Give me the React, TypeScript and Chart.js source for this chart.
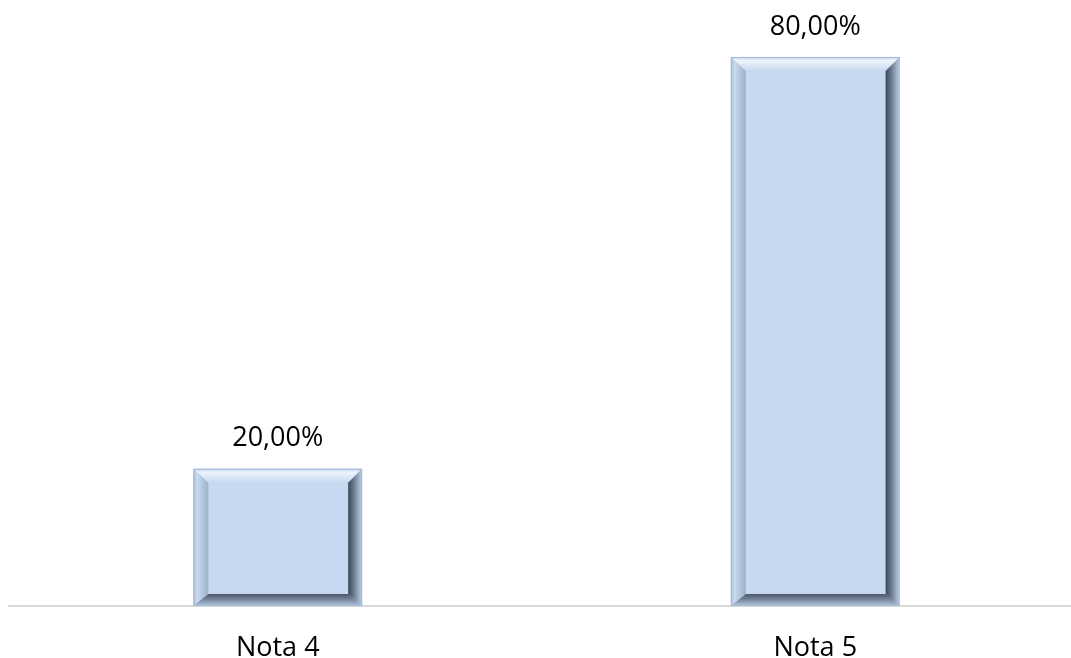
import React, { useEffect, useRef } from "react";
import { Chart, registerables } from "chart.js";

Chart.register(...registerables);

const categories = ["Nota 4", "Nota 5"];
const percentValues = [20, 80];
const yMin = 0;
const yMax = 88.3;

const FONT = "'Open Sans', 'Noto Sans', sans-serif";

const bevelPlugin = {
  id: "bevelBars",
  afterDatasetsDraw(chart: any) {
    const ctx = chart.ctx;
    const meta = chart.getDatasetMeta(0);
    meta.data.forEach((bar: any) => {
      const p = bar.getProps(["x", "y", "base", "width"], true);
      const L = p.x - p.width / 2;
      const R = p.x + p.width / 2;
      const T = Math.min(p.y, p.base);
      const B = Math.max(p.y, p.base);
      const bl = 15, bt = 14, br = 14, bb = 12;
      ctx.save();
      // top
      let g = ctx.createLinearGradient(0, T, 0, T + bt);
      g.addColorStop(0, "#bccfe8");
      g.addColorStop(0.25, "#eef4fb");
      g.addColorStop(1, "#c7d8ee");
      ctx.fillStyle = g;
      ctx.beginPath();
      ctx.moveTo(L, T); ctx.lineTo(R, T); ctx.lineTo(R - br, T + bt); ctx.lineTo(L + bl, T + bt); ctx.closePath();
      ctx.fill();
      // left
      g = ctx.createLinearGradient(L, 0, L + bl, 0);
      g.addColorStop(0, "#a9bfdc");
      g.addColorStop(0.25, "#c9daef");
      g.addColorStop(1, "#9db0c8");
      ctx.fillStyle = g;
      ctx.beginPath();
      ctx.moveTo(L, T); ctx.lineTo(L + bl, T + bt); ctx.lineTo(L + bl, B - bb); ctx.lineTo(L, B); ctx.closePath();
      ctx.fill();
      // right
      g = ctx.createLinearGradient(R - br, 0, R, 0);
      g.addColorStop(0, "#3a4756");
      g.addColorStop(0.4, "#6a7a8e");
      g.addColorStop(0.85, "#a9bcd4");
      g.addColorStop(1, "#b7cbe5");
      ctx.fillStyle = g;
      ctx.beginPath();
      ctx.moveTo(R, T); ctx.lineTo(R, B); ctx.lineTo(R - br, B - bb); ctx.lineTo(R - br, T + bt); ctx.closePath();
      ctx.fill();
      // bottom
      g = ctx.createLinearGradient(0, B - bb, 0, B);
      g.addColorStop(0, "#4a5766");
      g.addColorStop(0.5, "#7b8ba0");
      g.addColorStop(0.85, "#a3b6cf");
      g.addColorStop(1, "#b5c8e2");
      ctx.fillStyle = g;
      ctx.beginPath();
      ctx.moveTo(L, B); ctx.lineTo(R, B); ctx.lineTo(R - br, B - bb); ctx.lineTo(L + bl, B - bb); ctx.closePath();
      ctx.fill();
      // outer edge
      ctx.strokeStyle = "#a3badb";
      ctx.lineWidth = 1;
      ctx.strokeRect(L + 0.5, T + 0.5, R - L - 1, B - T - 1);
      ctx.restore();
    });
  },
};

const labelPlugin = {
  id: "valueLabels",
  afterDatasetsDraw(chart: any) {
    const ctx = chart.ctx;
    const meta = chart.getDatasetMeta(0);
    const data = chart.data.datasets[0].data;
    ctx.save();
    ctx.font = `27px ${FONT}`;
    ctx.fillStyle = "#000000";
    ctx.textAlign = "center";
    ctx.textBaseline = "middle";
    meta.data.forEach((bar: any, i: number) => {
      const text = Number(data[i]).toFixed(2).replace(".", ",") + "%";
      ctx.fillText(text, bar.x, bar.y - 30);
    });
    ctx.restore();
  },
};

export default function App() {
  const ref = useRef<HTMLCanvasElement | null>(null);
  useEffect(() => {
    if (!ref.current) return;
    const chart = new Chart(ref.current, {
      type: "bar",
      data: {
        labels: categories,
        datasets: [
          {
            data: percentValues,
            backgroundColor: "#c6d9f1",
            borderWidth: 0,
            barPercentage: 1,
            categoryPercentage: 0.314,
          },
        ],
      },
      options: {
        responsive: false,
        animation: false,
        devicePixelRatio: 1,
        layout: { padding: { left: 9, right: 6, top: 0, bottom: 0 } },
        plugins: { legend: { display: false }, tooltip: { enabled: false } },
        scales: {
          x: {
            grid: { display: false, drawTicks: false },
            border: { display: true, color: "#d9d9d9", width: 2 },
            ticks: { color: "#000000", font: { family: FONT, size: 27 }, padding: 26 },
            afterFit: (scale: any) => {
              scale.height = 80;
            },
          },
          y: {
            display: false,
            min: yMin,
            max: yMax,
          },
        },
      },
      plugins: [bevelPlugin, labelPlugin],
    });
    return () => chart.destroy();
  }, []);
  return (
    <div style={{ position: "absolute", left: 0, top: 0, width: 1071, height: 658, overflow: "hidden", background: "#ffffff" }}>
      <canvas ref={ref} width={1090} height={686} style={{ display: "block", width: 1090, height: 686 }} />
    </div>
  );
}
